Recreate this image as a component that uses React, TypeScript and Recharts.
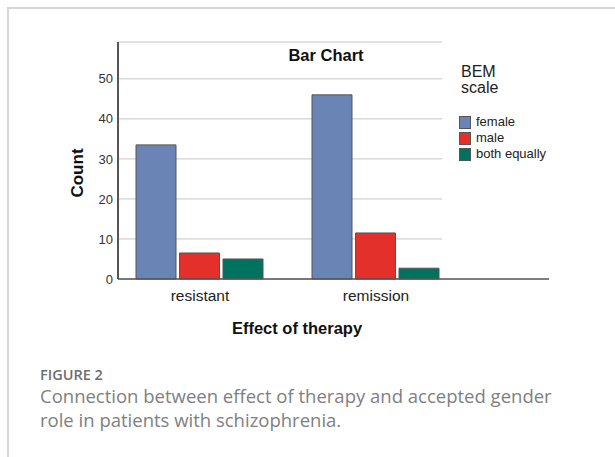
import { Bar, BarChart, CartesianGrid, Legend, XAxis, YAxis } from "recharts";

const categories = ["resistant", "remission"];
const female = [33.5, 46];
const male = [6.5, 11.5];
const bothEqually = [5, 2.7];
const yTicks = [0, 10, 20, 30, 40, 50];
const seriesNames = ["female", "male", "both equally"];

const data = categories.map((category, i) => ({
  category,
  female: female[i],
  male: male[i],
  both: bothEqually[i],
}));

const FONT = "'Liberation Sans', Arial, sans-serif";
const CAPTION_FONT = "'Open Sans', 'Noto Sans', sans-serif";
const GRID_END = 442;

function BemLegend({ payload }: any) {
  const items = [...(payload || [])].sort(
    (a: any, b: any) => seriesNames.indexOf(a.value) - seriesNames.indexOf(b.value)
  );
  return (
    <div style={{ fontFamily: FONT, color: "#222" }}>
      <div style={{ fontSize: 16, lineHeight: "16px", marginLeft: 2 }}>
        BEM
        <br />
        scale
      </div>
      <div style={{ marginTop: 18 }}>
        {items.map((p: any) => (
          <div key={p.value} style={{ display: "flex", alignItems: "center", height: 16 }}>
            <span
              style={{
                display: "inline-block",
                width: 12,
                height: 13,
                background: p.color,
                border: "1px solid #555",
                boxSizing: "border-box",
                marginRight: 5,
              }}
            />
            <span style={{ fontSize: 13, lineHeight: "16px" }}>{p.value}</span>
          </div>
        ))}
      </div>
    </div>
  );
}

export default function App() {
  return (
    <div
      style={{
        position: "absolute",
        left: 0,
        top: 0,
        width: 615,
        height: 457,
        overflow: "hidden",
        background: "#fff",
        fontFamily: FONT,
      }}
    >
      <div
        style={{
          position: "absolute",
          left: 7,
          top: 7,
          width: 700,
          height: 600,
          borderLeft: "2px solid #d6d6d6",
          borderTop: "2px solid #d6d6d6",
        }}
      />
      <div style={{ position: "absolute", left: 0, top: 0 }}>
        <BarChart
          width={615}
          height={339}
          data={data}
          margin={{ top: 42, right: 66, bottom: 0, left: 0 }}
          barCategoryGap={24}
          barGap={3.5}
        >
          <CartesianGrid
            vertical={false}
            horizontal={(p: any) => (
              <line key={p.key} x1={p.x1} y1={p.y1} x2={GRID_END} y2={p.y2} stroke="#c6c6c6" strokeWidth={1} />
            )}
          />
          <XAxis
            dataKey="category"
            height={60}
            padding={{ left: -6, right: 85 }}
            tickLine={false}
            tickSize={0}
            tickMargin={11}
            axisLine={{ stroke: "#555", strokeWidth: 1.5 }}
            tick={{ fontSize: 15.5, fill: "#222", fontFamily: FONT }}
          />
          <YAxis
            width={118}
            domain={[0, 59.2]}
            ticks={yTicks}
            tickLine={false}
            tickSize={0}
            tickMargin={5}
            axisLine={{ stroke: "#555", strokeWidth: 2 }}
            tick={{ fontSize: 13, fill: "#333", fontFamily: FONT }}
          />
          <Legend
            layout="vertical"
            align="center"
            verticalAlign="middle"
            content={<BemLegend />}
            wrapperStyle={{ left: 459, top: 64, width: 110 }}
          />
          <Bar dataKey="female" name="female" fill="#6a84b5" stroke="#555" strokeWidth={1} isAnimationActive={false} />
          <Bar dataKey="male" name="male" fill="#e3302b" stroke="#555" strokeWidth={1} isAnimationActive={false} />
          <Bar dataKey="both" name="both equally" fill="#00735e" stroke="#555" strokeWidth={1} isAnimationActive={false} />
        </BarChart>
      </div>
      <div
        style={{
          position: "absolute",
          left: 226,
          width: 200,
          top: 45,
          lineHeight: "20px",
          textAlign: "center",
          fontSize: 16.5,
          fontWeight: "bold",
          color: "#111",
        }}
      >
        Bar Chart
      </div>
      <div
        style={{
          position: "absolute",
          left: 197,
          width: 200,
          top: 318,
          lineHeight: "20px",
          textAlign: "center",
          fontSize: 16.5,
          fontWeight: "bold",
          color: "#111",
        }}
      >
        Effect of therapy
      </div>
      <div
        style={{
          position: "absolute",
          left: 28,
          width: 100,
          top: 163,
          lineHeight: "20px",
          textAlign: "center",
          fontSize: 17,
          fontWeight: "bold",
          color: "#111",
          transform: "rotate(-90deg)",
        }}
      >
        Count
      </div>
      <div
        style={{
          position: "absolute",
          left: 40,
          top: 366,
          fontFamily: CAPTION_FONT,
          fontSize: 14.5,
          fontWeight: 600,
          color: "#6e6e6e",
          lineHeight: "18px",
        }}
      >
        FIGURE 2
      </div>
      <div
        style={{
          position: "absolute",
          left: 40,
          top: 384,
          fontFamily: CAPTION_FONT,
          fontSize: 18.5,
          color: "#808080",
          lineHeight: "24px",
          whiteSpace: "nowrap",
        }}
      >
        Connection between effect of therapy and accepted gender
        <br />
        role in patients with schizophrenia.
      </div>
    </div>
  );
}
